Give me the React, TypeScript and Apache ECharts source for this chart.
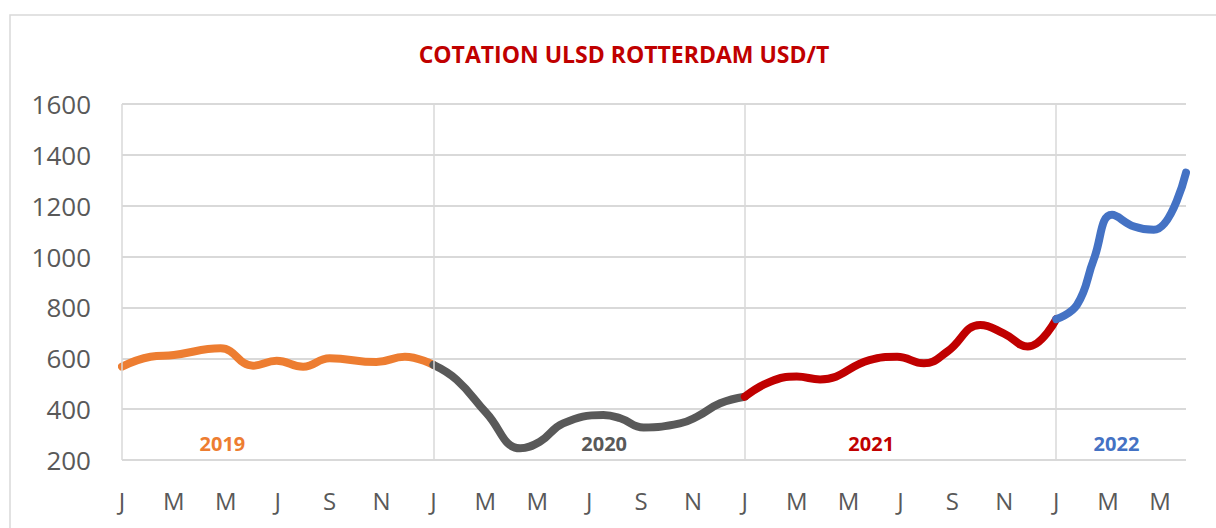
import React, { useEffect, useRef } from "react";
import * as echarts from "echarts";

// Months elapsed since January 2019 (0 = Jan 2019)
const monthsFor2019 = [0, 1.1, 2.0, 3.8, 5.05, 5.96, 6.98, 8.0, 9.8, 10.9, 12];
const values2019 = [567, 606, 613, 639, 571, 590, 567, 600, 585, 606, 574];

const monthsFor2020 = [12, 12.9, 14.05, 15.34, 16.1, 17.0, 18.55, 19.2, 20.1, 21.5, 22.15, 23.05, 24];
const values2020 = [574, 515, 384, 246, 272, 344, 377, 364, 328, 344, 370, 423, 449];

const monthsFor2021 = [24, 24.98, 26.0, 26.9, 28.8, 29.87, 30.9, 31.8, 33.07, 33.97, 34.9, 36];
const values2021 = [449, 508, 528, 517, 593, 606, 580, 626, 731, 698, 646, 754];

const monthsFor2022 = [36, 36.8, 37.45, 38.15, 39.0, 39.76, 41];
const values2022 = [754, 810, 990, 1164, 1118, 1105, 1330];

const monthLetters = ["J", "F", "M", "A", "M", "J", "J", "A", "S", "O", "N", "D"];
const yearNames = ["2019", "2020", "2021", "2022"];
const yearColors = ["#ED7D31", "#595959", "#C00000", "#4472C4"];
const yearLabelMonth = [3.87, 18.58, 28.87, 38.32];
const yearLabelValue = 263;
const yearStarts = [0, 12, 24, 36];

const titleText = "COTATION ULSD ROTTERDAM USD/T";

const FONT = "'Open Sans', 'Liberation Sans', sans-serif";

export default function App() {
  const ref = useRef<HTMLDivElement>(null);
  useEffect(() => {
    if (!ref.current) return;
    const chart = echarts.init(ref.current, undefined, { renderer: "svg" });
    const monthSets = [monthsFor2019, monthsFor2020, monthsFor2021, monthsFor2022];
    const valueSets = [values2019, values2020, values2021, values2022];
    const series: any[] = yearNames.map((name, i) => ({
      name,
      type: "line",
      smooth: 0.45,
      showSymbol: false,
      symbol: "none",
      z: 3 + i,
      lineStyle: { color: yearColors[i], width: 8, cap: "round" },
      data: monthSets[i].map((m, j) => [m, valueSets[i][j]]),
      markPoint: {
        symbol: "circle",
        symbolSize: 0,
        silent: true,
        label: {
          show: true,
          position: "inside",
          formatter: name,
          color: yearColors[i],
          fontWeight: "bold",
          fontSize: 20,
          fontFamily: FONT,
        },
        data: [{ coord: [yearLabelMonth[i], yearLabelValue] }],
      },
      markLine:
        i === 0
          ? {
              silent: true,
              symbol: "none",
              label: { show: false },
              lineStyle: { color: "#d9d9d9", width: 1.5, type: "solid" },
              data: yearStarts.map((x) => ({ xAxis: x })),
            }
          : undefined,
    }));

    chart.setOption({
      animation: false,
      backgroundColor: "#ffffff",
      graphic: [
        {
          type: "rect",
          shape: { x: 10, y: 15, width: 1230, height: 540 },
          style: { fill: "none", stroke: "#d9d9d9", lineWidth: 1.5 },
          silent: true,
        },
        {
          type: "text",
          x: 624,
          y: 54,
          style: {
            text: titleText,
            fill: "#C00000",
            font: `bold 23px ${FONT}`,
            textAlign: "center",
            textVerticalAlign: "middle",
          },
        },
      ],
      grid: { left: 122, right: 30, top: 104, bottom: 68 },
      xAxis: {
        type: "value",
        min: 0,
        max: 41,
        interval: 2,
        axisLine: { show: false },
        axisTick: { show: false },
        splitLine: { show: false },
        axisLabel: {
          margin: 28,
          color: "#595959",
          fontSize: 24,
          fontFamily: FONT,
          formatter: (v: number) => (v % 2 === 0 && v <= 40 ? monthLetters[v % 12] : ""),
        },
      },
      yAxis: {
        type: "value",
        min: 200,
        max: 1600,
        interval: 200,
        axisLine: { show: false },
        axisTick: { show: false },
        splitLine: { lineStyle: { color: "#d9d9d9", width: 2 } },
        axisLabel: {
          margin: 31,
          color: "#595959",
          fontSize: 26,
          fontFamily: FONT,
          formatter: (v: number) => String(v),
        },
      },
      series,
    });
    return () => chart.dispose();
  }, []);
  return (
    <div
      ref={ref}
      style={{ position: "fixed", left: 0, top: 0, width: 1216, height: 528 }}
    />
  );
}
